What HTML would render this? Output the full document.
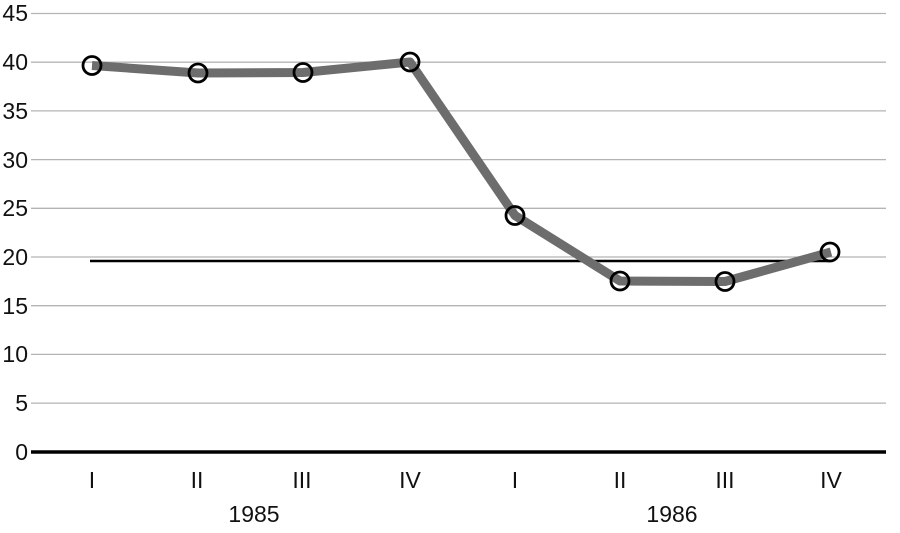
<!DOCTYPE html>
<html><head><style>body{margin:0;background:#fff}svg{display:block}</style></head><body>
<svg width="900" height="533" xmlns="http://www.w3.org/2000/svg" font-family="Liberation Sans, sans-serif" font-size="23" fill="#111">
<g stroke="#b4b4b4" stroke-width="1.3">
<line x1="31" x2="886" y1="13.5" y2="13.5"/>
<line x1="31" x2="886" y1="62.2" y2="62.2"/>
<line x1="31" x2="886" y1="110.9" y2="110.9"/>
<line x1="31" x2="886" y1="159.6" y2="159.6"/>
<line x1="31" x2="886" y1="208.3" y2="208.3"/>
<line x1="31" x2="886" y1="257" y2="257"/>
<line x1="31" x2="886" y1="305.7" y2="305.7"/>
<line x1="31" x2="886" y1="354.4" y2="354.4"/>
<line x1="31" x2="886" y1="403.1" y2="403.1"/>
</g>
<line x1="31" x2="886" y1="452" y2="452" stroke="#000" stroke-width="3.5"/>
<g text-anchor="end">
<text x="28" y="21">45</text><text x="28" y="70">40</text><text x="28" y="119">35</text>
<text x="28" y="168">30</text><text x="28" y="216">25</text><text x="28" y="265">20</text>
<text x="28" y="314">15</text><text x="28" y="362">10</text><text x="28" y="411">5</text>
<text x="28" y="460">0</text>
</g>
<g text-anchor="middle">
<text x="92" y="488">I</text><text x="197" y="488">II</text><text x="302" y="488">III</text><text x="410" y="488">IV</text>
<text x="515" y="488">I</text><text x="620" y="488">II</text><text x="725" y="488">III</text><text x="831" y="488">IV</text>
<text x="254" y="522">1985</text><text x="672" y="522">1986</text>
</g>
<line x1="90" x2="830" y1="261" y2="261" stroke="#000" stroke-width="2.5"/>
<polyline points="92,65.5 198,73 303,72.5 410,62 515,215.5 620,281 725,281.5 831,252" fill="none" stroke="#6d6d6d" stroke-width="9" stroke-linejoin="round"/>
<g fill="none" stroke="#000" stroke-width="2.8">
<circle cx="92" cy="65.5" r="9"/><circle cx="198" cy="73" r="9"/><circle cx="303" cy="72.5" r="9"/><circle cx="410" cy="62" r="9"/>
<circle cx="515" cy="215.5" r="9"/><circle cx="620" cy="281" r="9"/><circle cx="725" cy="281.5" r="9"/><circle cx="830" cy="252" r="9"/>
</g>
</svg>
</body></html>
